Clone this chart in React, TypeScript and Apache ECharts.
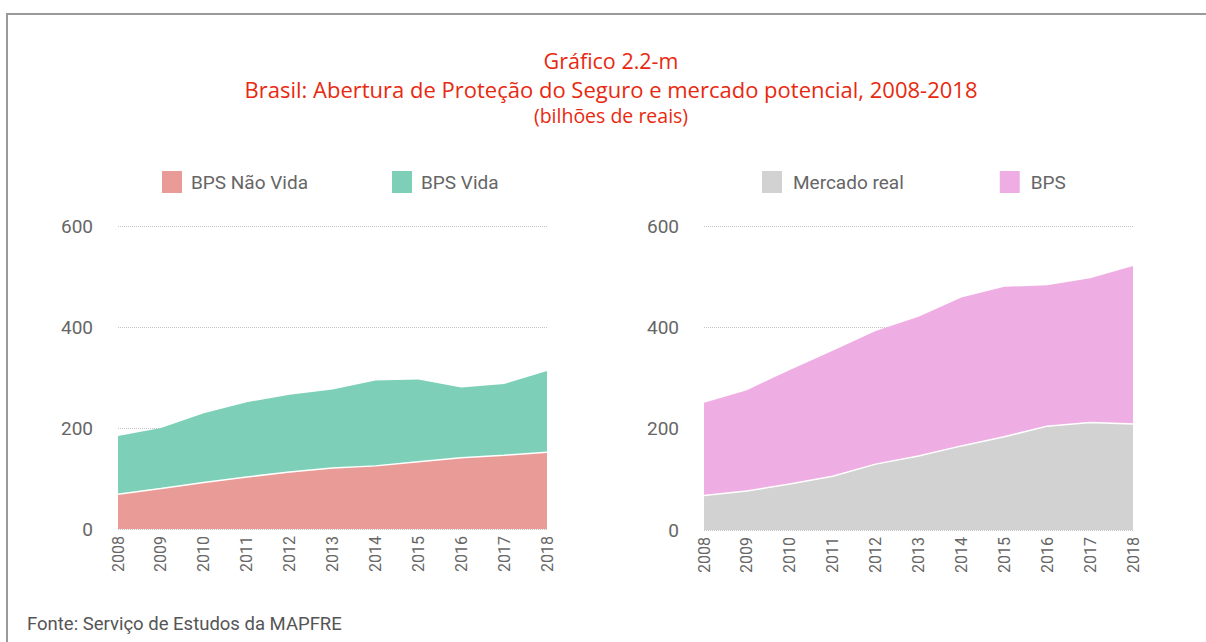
import React, { useEffect, useRef } from "react";
import * as echarts from "echarts";

const years = ["2008", "2009", "2010", "2011", "2012", "2013", "2014", "2015", "2016", "2017", "2018"];
const bpsNaoVida = [69, 80, 92, 103, 113, 121, 125, 133, 141, 146, 152];
const bpsVida = [115, 120, 137, 148, 153, 155, 169, 163, 139, 141, 161];
const mercadoReal = [68, 77, 91, 106, 130, 146, 166, 184, 205, 212, 209];
const bps = [183, 199, 225, 248, 263, 275, 293, 296, 278, 285, 312];
const yTicks = [0, 200, 400, 600];

const FONT = "Roboto, 'Noto Sans', sans-serif";
const TITLE_FONT = "'Open Sans', Roboto, sans-serif";
const TITLE_RED = "#e8290f";
const TEXT_GREY = "#666666";

export default function App() {
  const ref = useRef<HTMLDivElement>(null);
  useEffect(() => {
    if (!ref.current) return;
    const chart = echarts.init(ref.current, undefined, { renderer: "svg" });
    const grids = [
      { left: 118, top: 226, width: 429, height: 303 },
      { left: 704, top: 226, width: 429, height: 304 },
    ];
    const xAxis = grids.map((_, i) => ({
      type: "category",
      gridIndex: i,
      data: years,
      boundaryGap: false,
      axisLine: { show: false },
      axisTick: { show: false },
      axisLabel: { rotate: 90, color: TEXT_GREY, fontSize: 16, fontFamily: FONT, margin: 7 },
    }));
    const yAxis = grids.map((_, i) => ({
      type: "value",
      gridIndex: i,
      min: yTicks[0],
      max: yTicks[yTicks.length - 1],
      interval: yTicks[1] - yTicks[0],
      axisLine: { show: false },
      axisTick: { show: false },
      axisLabel: { color: TEXT_GREY, fontSize: 19, fontFamily: FONT, margin: 25 },
      splitLine: { show: true, lineStyle: { color: "#c4c4c4", type: "dotted", width: 1 } },
    }));
    chart.setOption({
      animation: false,
      backgroundColor: "#ffffff",
      title: {
        text:
          "{h|Gráfico 2.2-m}\n{a|Brasil: Abertura de Proteção do Seguro e mercado potencial, 2008-2018}\n{b|(bilhões de reais)}",
        left: 611,
        top: 46,
        padding: 0,
        textAlign: "center",
        textStyle: {
          color: TITLE_RED,
          fontFamily: TITLE_FONT,
          fontWeight: "normal",
          align: "center",
          rich: {
            h: { color: TITLE_RED, fontFamily: TITLE_FONT, fontSize: 21.5, lineHeight: 29.5, align: "center" },
            a: { color: TITLE_RED, fontFamily: TITLE_FONT, fontSize: 22, lineHeight: 26, align: "center" },
            b: { color: TITLE_RED, fontFamily: TITLE_FONT, fontSize: 19.5, lineHeight: 27, align: "center" },
          },
        },
      },
      legend: [
        {
          data: ["BPS Não Vida", "BPS Vida"],
          left: 157,
          top: 166,
          icon: "rect",
          itemWidth: 20,
          itemHeight: 22,
          itemGap: 84,
          textStyle: { color: TEXT_GREY, fontSize: 19, fontFamily: FONT, padding: [0, 0, 0, 4] },
        },
        {
          data: ["Mercado real", "BPS"],
          left: 757,
          top: 166,
          icon: "rect",
          itemWidth: 20,
          itemHeight: 22,
          itemGap: 96,
          textStyle: { color: TEXT_GREY, fontSize: 19, fontFamily: FONT, padding: [0, 0, 0, 6] },
        },
      ],
      grid: grids,
      xAxis,
      yAxis,
      series: [
        {
          name: "BPS Não Vida",
          type: "line",
          xAxisIndex: 0,
          yAxisIndex: 0,
          stack: "left",
          data: bpsNaoVida,
          symbol: "none",
          z: 4,
          itemStyle: { color: "#e99c97" },
          lineStyle: { color: "#ffffff", width: 1.5 },
          areaStyle: { color: "#e99c97", opacity: 1 },
        },
        {
          name: "BPS Vida",
          type: "line",
          xAxisIndex: 0,
          yAxisIndex: 0,
          stack: "left",
          data: bpsVida,
          symbol: "none",
          z: 3,
          itemStyle: { color: "#7dd0b7" },
          lineStyle: { width: 0 },
          areaStyle: { color: "#7dd0b7", opacity: 1 },
        },
        {
          name: "Mercado real",
          type: "line",
          xAxisIndex: 1,
          yAxisIndex: 1,
          stack: "right",
          data: mercadoReal,
          symbol: "none",
          z: 4,
          itemStyle: { color: "#d2d2d2" },
          lineStyle: { color: "#ffffff", width: 1.5 },
          areaStyle: { color: "#d2d2d2", opacity: 1 },
        },
        {
          name: "BPS",
          type: "line",
          xAxisIndex: 1,
          yAxisIndex: 1,
          stack: "right",
          data: bps,
          symbol: "none",
          z: 3,
          itemStyle: { color: "#efaee3" },
          lineStyle: { width: 0 },
          areaStyle: { color: "#efaee3", opacity: 1 },
        },
      ],
      graphic: [
        { type: "line", shape: { x1: 7, y1: 14, x2: 1206, y2: 14 }, style: { stroke: "#9a9a9a", lineWidth: 2 } },
        { type: "line", shape: { x1: 7, y1: 13, x2: 7, y2: 642 }, style: { stroke: "#9a9a9a", lineWidth: 2 } },
        {
          type: "text",
          left: 27,
          top: 614,
          style: { text: "Fonte: Serviço de Estudos da MAPFRE", fill: "#555555", fontSize: 18.5, fontFamily: FONT },
        },
      ],
    });
    return () => chart.dispose();
  }, []);
  return <div ref={ref} style={{ position: "absolute", left: 0, top: 0, width: 1206, height: 642 }} />;
}
